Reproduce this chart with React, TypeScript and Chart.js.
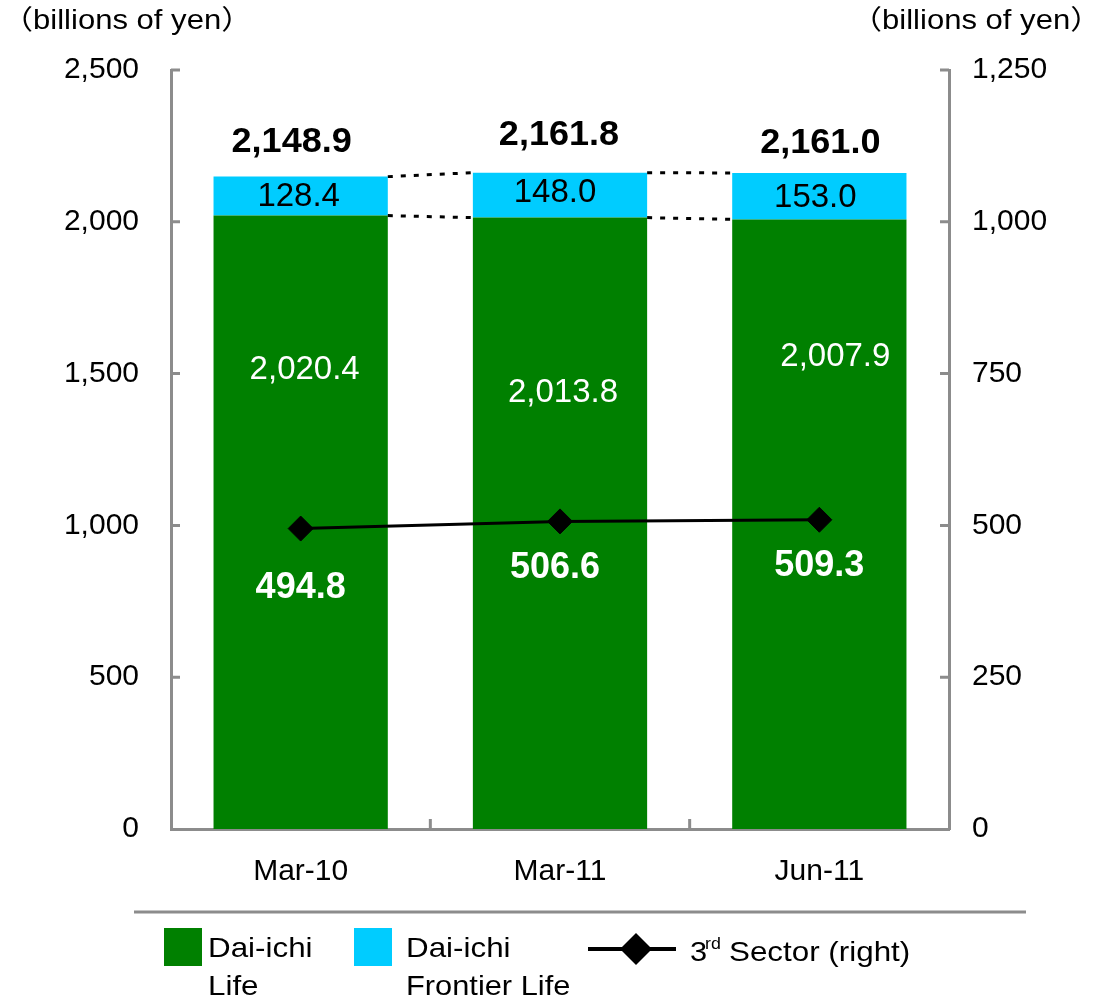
import React, { useEffect, useRef } from "react";
import { Chart, registerables } from "chart.js";

Chart.register(...registerables);

// ---- data ----
const categories = ["Mar-10", "Mar-11", "Jun-11"];
const daiichiLife = [2020.4, 2013.8, 2007.9];
const frontierLife = [128.4, 148.0, 153.0];
const totals = [2148.9, 2161.8, 2161.0];
const thirdSector = [494.8, 506.6, 509.3];
const leftTicks = [0, 500, 1000, 1500, 2000, 2500];
const rightTicks = [0, 250, 500, 750, 1000, 1250];
const axisTitle = "（billions of yen）";
const seriesNames = ["Dai-ichi Life", "Dai-ichi Frontier Life", "3rd Sector (right)"];

// ---- style ----
const GREEN = "#008000";
const CYAN = "#00CCFF";
const AXIS = "#8c8c8c";
const FONT = '"Liberation Sans", Arial, "Noto Sans CJK JP", sans-serif';

// label offsets (layout only)
const totalOffsets = [[-9, -34], [-1, -37], [1, -30]];
const cyanOffsets = [[-2, 1], [-5, -2], [-4, 2]];
const greenOffsets = [[4, 154], [3, 175], [16, 138]];
const sectorOffsets = [[0, 60], [-5, 47], [0, 46]];

const fmt1 = (v: number) =>
  v.toLocaleString("en-US", { minimumFractionDigits: 1, maximumFractionDigits: 1 });
const fmt0 = (v: number) => v.toLocaleString("en-US");

function txt(
  ctx: CanvasRenderingContext2D,
  s: string,
  x: number,
  y: number,
  size: number,
  opts: { bold?: boolean; color?: string; align?: CanvasTextAlign; sx?: number } = {}
) {
  ctx.save();
  ctx.font = `${opts.bold ? "bold " : ""}${size}px ${FONT}`;
  ctx.fillStyle = opts.color || "#000";
  ctx.textBaseline = "middle";
  ctx.textAlign = opts.align || "center";
  ctx.translate(x, y);
  ctx.scale(opts.sx || 1, 1);
  ctx.fillText(s, 0, 0);
  ctx.restore();
}

const decorPlugin = {
  id: "decor",
  afterDatasetsDraw(chart: any) {
    const ctx: CanvasRenderingContext2D = chart.ctx;
    const area = chart.chartArea;
    const x = chart.scales.x;
    const y = chart.scales.y;
    const y1 = chart.scales.y1;
    const gMeta = chart.getDatasetMeta(0);
    const cMeta = chart.getDatasetMeta(1);
    const lMeta = chart.getDatasetMeta(2);

    // inward axis ticks
    ctx.save();
    ctx.strokeStyle = AXIS;
    ctx.lineWidth = 3;
    ctx.beginPath();
    leftTicks.forEach((v) => {
      if (v === 0) return;
      const py = y.getPixelForValue(v);
      ctx.moveTo(area.left, py);
      ctx.lineTo(area.left + 9, py);
    });
    rightTicks.forEach((v) => {
      if (v === 0) return;
      const py = y1.getPixelForValue(v);
      ctx.moveTo(area.right, py);
      ctx.lineTo(area.right - 9, py);
    });
    for (let i = 0; i < categories.length - 1; i++) {
      const px = (x.getPixelForValue(i) + x.getPixelForValue(i + 1)) / 2;
      ctx.moveTo(px, area.bottom);
      ctx.lineTo(px, area.bottom - 10);
    }
    ctx.stroke();
    ctx.restore();

    // dashed connectors
    ctx.save();
    ctx.strokeStyle = "#000";
    ctx.lineWidth = 3;
    ctx.setLineDash([5, 8]);
    for (let i = 0; i < categories.length - 1; i++) {
      [gMeta, cMeta].forEach((meta: any) => {
        const a = meta.data[i];
        const b = meta.data[i + 1];
        ctx.beginPath();
        ctx.moveTo(a.x + a.width / 2, a.y);
        ctx.lineTo(b.x - b.width / 2, b.y);
        ctx.stroke();
      });
    }
    ctx.restore();

    // labels
    for (let i = 0; i < categories.length; i++) {
      const g = gMeta.data[i];
      const c = cMeta.data[i];
      const p = lMeta.data[i];
      const topY = y.getPixelForValue(totals[i]);
      txt(ctx, fmt1(totals[i]), g.x + totalOffsets[i][0], topY + totalOffsets[i][1], 35, { bold: true, sx: 1.03 });
      txt(ctx, fmt1(frontierLife[i]), c.x + cyanOffsets[i][0], (c.y + g.y) / 2 + cyanOffsets[i][1], 33);
      txt(ctx, fmt1(daiichiLife[i]), g.x + greenOffsets[i][0], g.y + greenOffsets[i][1], 33, { color: "#fff" });
      txt(ctx, fmt1(thirdSector[i]), p.x + sectorOffsets[i][0], p.y + sectorOffsets[i][1], 36, {
        bold: true,
        color: "#fff",
      });
    }
  },
  afterDraw(chart: any) {
    const ctx: CanvasRenderingContext2D = chart.ctx;
    const area = chart.chartArea;
    const x = chart.scales.x;
    const y = chart.scales.y;
    const y1 = chart.scales.y1;

    // tick labels
    leftTicks.forEach((v) => txt(ctx, fmt0(v), area.left - 32, y.getPixelForValue(v), 30, { align: "right" }));
    rightTicks.forEach((v) => txt(ctx, fmt0(v), area.right + 23, y1.getPixelForValue(v), 30, { align: "left" }));
    categories.forEach((c, i) => txt(ctx, c, x.getPixelForValue(i), area.bottom + 43, 30));

    // axis titles
    txt(ctx, axisTitle, 2, 22, 27, { align: "left", sx: 1.15 });
    txt(ctx, axisTitle, 851, 22, 27, { align: "left", sx: 1.15 });

    // legend
    ctx.save();
    ctx.strokeStyle = AXIS;
    ctx.lineWidth = 3;
    ctx.beginPath();
    ctx.moveTo(134, 912);
    ctx.lineTo(1026, 912);
    ctx.stroke();
    ctx.fillStyle = GREEN;
    ctx.fillRect(164, 928, 38, 38);
    ctx.fillStyle = CYAN;
    ctx.fillRect(354, 928, 38, 38);
    ctx.strokeStyle = "#000";
    ctx.lineWidth = 4;
    ctx.beginPath();
    ctx.moveTo(588, 949);
    ctx.lineTo(676, 949);
    ctx.stroke();
    ctx.fillStyle = "#000";
    ctx.beginPath();
    ctx.moveTo(636, 933);
    ctx.lineTo(652, 949);
    ctx.lineTo(636, 965);
    ctx.lineTo(620, 949);
    ctx.closePath();
    ctx.fill();
    ctx.restore();

    const [n1, n2, n3] = seriesNames;
    const s1 = n1.split(" ");
    txt(ctx, s1[0], 208, 949, 28, { align: "left", sx: 1.12 });
    txt(ctx, s1.slice(1).join(" "), 208, 987, 28, { align: "left", sx: 1.12 });
    const s2 = n2.split(" ");
    txt(ctx, s2[0], 406, 949, 28, { align: "left", sx: 1.12 });
    txt(ctx, s2.slice(1).join(" "), 406, 987, 28, { align: "left", sx: 1.1 });
    // "3rd Sector (right)" with superscript
    const m = n3.match(/^(\d+)(rd)\s(.*)$/) || ["", "3", "rd", n3];
    txt(ctx, m[1], 690, 953, 28, { align: "left", sx: 1.1 });
    txt(ctx, m[2], 705, 944, 17, { align: "left", sx: 1.05 });
    txt(ctx, m[3], 729, 953, 28, { align: "left", sx: 1.12 });
  },
};

export default function App() {
  const ref = useRef<HTMLCanvasElement | null>(null);

  useEffect(() => {
    if (!ref.current) return;
    const chart = new Chart(ref.current, {
      type: "bar",
      data: {
        labels: categories,
        datasets: [
          {
            label: seriesNames[0],
            data: daiichiLife,
            backgroundColor: GREEN,
            borderWidth: 0,
            yAxisID: "y",
            stack: "s",
            order: 2,
            barPercentage: 0.672,
            categoryPercentage: 1,
          },
          {
            label: seriesNames[1],
            data: frontierLife,
            backgroundColor: CYAN,
            borderWidth: 0,
            yAxisID: "y",
            stack: "s",
            order: 2,
            barPercentage: 0.672,
            categoryPercentage: 1,
          },
          {
            type: "line",
            label: seriesNames[2],
            data: thirdSector,
            yAxisID: "y1",
            borderColor: "#000",
            borderWidth: 3,
            pointStyle: "rectRot",
            pointRadius: 12.5,
            pointBackgroundColor: "#000",
            pointBorderColor: "#000",
            pointBorderWidth: 1,
            order: 0,
          } as any,
        ],
      },
      options: {
        responsive: false,
        animation: false,
        devicePixelRatio: 1,
        layout: { padding: { top: 70, left: 0, right: 0, bottom: 0 } },
        plugins: { legend: { display: false }, tooltip: { enabled: false } },
        scales: {
          x: {
            stacked: true,
            grid: { display: false, drawTicks: false },
            border: { display: true, color: AXIS, width: 3 },
            ticks: { display: false },
            afterFit: (s: any) => {
              s.height = 172;
            },
          },
          y: {
            stacked: true,
            position: "left",
            min: 0,
            max: 2500,
            grid: { display: false, drawTicks: false },
            border: { display: true, color: AXIS, width: 3 },
            ticks: { display: false, stepSize: 500 },
            afterFit: (s: any) => {
              s.width = 171;
            },
          },
          y1: {
            position: "right",
            min: 0,
            max: 1250,
            grid: { display: false, drawTicks: false },
            border: { display: true, color: AXIS, width: 3 },
            ticks: { display: false, stepSize: 250 },
            afterFit: (s: any) => {
              s.width = 148;
            },
          },
        } as any,
      },
      plugins: [decorPlugin],
    });
    return () => chart.destroy();
  }, []);

  return (
    <div style={{ position: "absolute", left: 0, top: 0, width: 1097, height: 1001, background: "#fff" }}>
      <canvas ref={ref} width={1097} height={1001} style={{ display: "block" }} />
    </div>
  );
}
